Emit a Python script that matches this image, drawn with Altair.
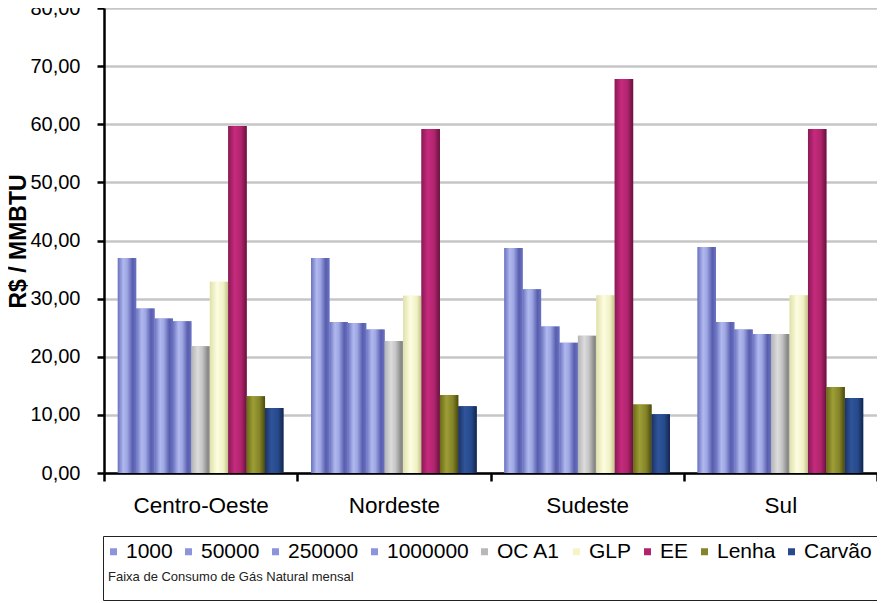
import altair as alt
import pandas as pd

regions = ["Centro-Oeste", "Nordeste", "Sudeste", "Sul"]
series = ["1000", "50000", "250000", "1000000", "OC A1", "GLP", "EE", "Lenha", "Carvão"]

v_centro_oeste = [37.0, 28.3, 26.6, 26.1, 21.8, 32.9, 59.7, 13.2, 11.2]
v_nordeste = [37.0, 26.0, 25.8, 24.7, 22.7, 30.5, 59.2, 13.4, 11.5]
v_sudeste = [38.7, 31.6, 25.2, 22.4, 23.6, 30.6, 67.8, 11.8, 10.1]
v_sul = [38.9, 26.0, 24.7, 23.9, 23.9, 30.6, 59.2, 14.8, 12.9]

y_ticks = [0, 10, 20, 30, 40, 50, 60, 70, 80]

solid_colors = ["#8c94dc", "#8c94dc", "#8c94dc", "#8c94dc", "#b8b8b8",
                "#f4f4c4", "#b0246c", "#84842a", "#264a8c"]

blue_stops = [(0, "#6a72c0"), (0.3, "#b0b8ee"), (0.5, "#a0a8e4"), (0.8, "#585eae"), (1, "#6a72c0")]
grey_stops = [(0, "#b4b4b4"), (0.35, "#dcdcdc"), (0.6, "#c4c4c4"), (0.9, "#868686"), (1, "#989898")]
yellow_stops = [(0, "#e0e0aa"), (0.4, "#fdfde2"), (0.75, "#f0f0c4"), (1, "#c0c088")]
magenta_stops = [(0, "#8a1a54"), (0.35, "#c62a7e"), (0.7, "#b0246c"), (1, "#66123e")]
olive_stops = [(0, "#6a6a16"), (0.35, "#9e9e36"), (0.7, "#84842a"), (1, "#4a4a0a")]
navy_stops = [(0, "#1c3266"), (0.35, "#30549a"), (0.7, "#264a8c"), (1, "#14264c")]
gradient_stops = [blue_stops, blue_stops, blue_stops, blue_stops, grey_stops,
                  yellow_stops, magenta_stops, olive_stops, navy_stops]

rows = []
for reg, vals in zip(regions, [v_centro_oeste, v_nordeste, v_sudeste, v_sul]):
    for s, v in zip(series, vals):
        rows.append({"region": reg, "series": s, "value": v})
df = pd.DataFrame(rows)

FONT = "Liberation Sans"

x_enc = alt.X(
    "region:N", sort=regions, title=None,
    scale=alt.Scale(paddingInner=0, paddingOuter=0),
    axis=alt.Axis(labelAngle=0, labelFontSize=22.5, labelColor="black", labelFont=FONT,
                  tickBand="extent", tickSize=8, tickWidth=2.5, tickColor="black",
                  domainColor="black", domainWidth=2.5, labelPadding=13, grid=False),
)
xo_enc = alt.XOffset(
    "series:N", sort=series,
    scale=alt.Scale(domain=series, paddingInner=0, paddingOuter=0.75),
)
y_enc = alt.Y(
    "value:Q", title="R$ / MMBTU",
    scale=alt.Scale(domain=[0, 80], nice=False),
    axis=alt.Axis(values=y_ticks,
                  labelExpr="replace(format(datum.value, '.2f'), '.', ',')",
                  labelFontSize=20, labelColor="black", labelFont=FONT,
                  tickSize=7, tickWidth=2.5, tickColor="black",
                  domainColor="black", domainWidth=2.5, labelPadding=17,
                  grid=True, gridColor="#c6c6c6", gridWidth=2.5,
                  titleFont=FONT, titleFontSize=23, titleFontWeight="bold",
                  titleColor="black", titleAngle=270, titleX=-86, titleY=233,
                  titleAlign="center", titleBaseline="middle"),
)

base = alt.Chart(df).encode(x=x_enc, xOffset=xo_enc, y=y_enc)

legend_layer = base.mark_bar().encode(
    color=alt.Color(
        "series:N", sort=series,
        scale=alt.Scale(domain=series, range=solid_colors),
        legend=alt.Legend(
            title=["\u00a0\u00a0\u00a0\u00a0Faixa de Consumo de Gás Natural mensal", "\u00a0"],
            orient="none", legendX=-1, legendY=528, direction="horizontal", columns=9,
            symbolType="square", symbolSize=49, symbolStrokeWidth=0, symbolOffset=-5,
            labelFontSize=21, labelFont=FONT, labelColor="black", labelOffset=2,
            labelExpr="datum.label == '1000000' ? '1000000\u00a0\u00a0' : datum.label",
            columnPadding=10, padding=5, strokeColor="#222222", fillColor="white",
            titleOrient="bottom", titleAnchor="start", titleFontSize=13,
            titleFont=FONT, titleFontWeight="normal", titleColor="#222222",
            titlePadding=9, titleLineHeight=11, labelLimit=0, titleLimit=700,
        ),
    )
)

layers = [legend_layer]
for s, stops in zip(series, gradient_stops):
    grad = alt.LinearGradient(
        gradient="linear", x1=0, x2=1, y1=0, y2=0,
        stops=[alt.GradientStop(offset=o, color=c) for o, c in stops],
    )
    layers.append(
        base.transform_filter(alt.datum.series == s).mark_bar(fill=grad)
    )

chart = alt.layer(*layers).properties(
    width=773, height=465,
    autosize=alt.AutoSizeParams(type="none"),
    padding={"left": 96, "top": 0, "right": 0, "bottom": 130},
).configure_view(stroke=None).configure(background="white")

chart.save("out.html", embed_options={"renderer": "svg", "actions": False})
